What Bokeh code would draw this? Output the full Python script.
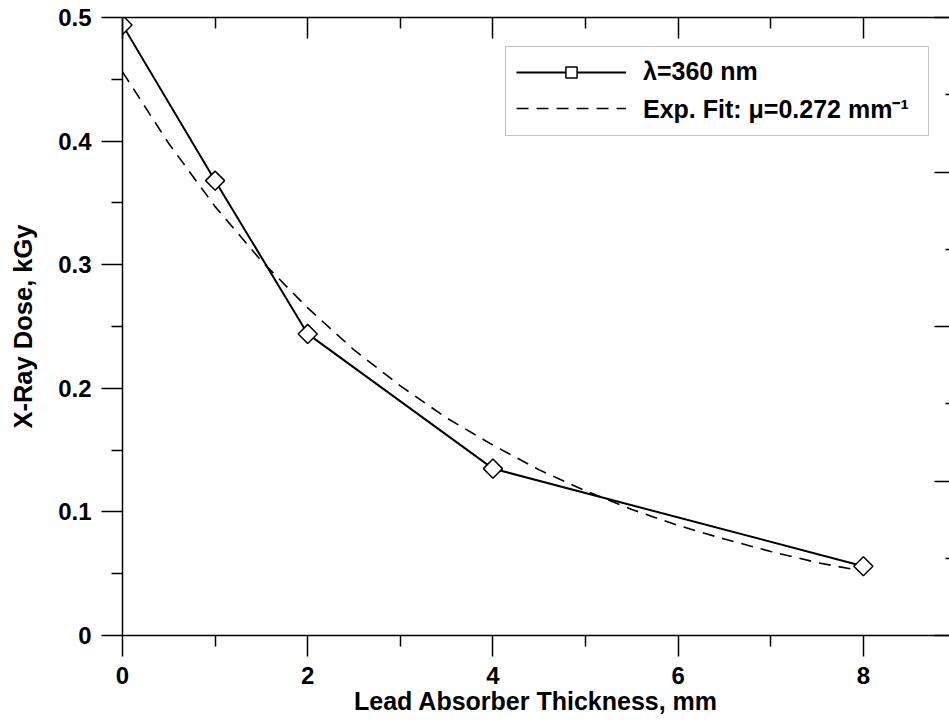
from bokeh.plotting import figure
from bokeh.models import (LinearAxis, Range1d, FixedTicker, Legend, LegendItem)
from bokeh.embed import file_html
from bokeh.resources import INLINE

# ---- data ----
thickness = [0, 1, 2, 4, 8]
dose = [0.494, 0.368, 0.244, 0.135, 0.056]

fit_x = [0, 0.5, 1, 1.5, 2, 2.5, 3, 3.5, 4, 4.5, 5, 5.5, 6, 6.5, 7, 7.5, 8]
fit_y = [0.456, 0.398, 0.347, 0.303, 0.265, 0.231, 0.202, 0.176, 0.154,
         0.134, 0.117, 0.102, 0.089, 0.078, 0.068, 0.059, 0.052]

x_ticks = [0, 2, 4, 6, 8]
x_minor = [1, 3, 5, 7]
y_ticks = [0, 0.1, 0.2, 0.3, 0.4, 0.5]
y_minor = [0.05, 0.15, 0.25, 0.35, 0.45]
y_labels = {0: "0", 0.1: "0.1", 0.2: "0.2", 0.3: "0.3", 0.4: "0.4", 0.5: "0.5"}
r_ticks = [0, 1, 2, 3, 4]
r_minor = [0.5, 1.5, 2.5, 3.5]

label_series = "λ=360 nm"
label_fit = "Exp. Fit: μ=0.272 mm⁻¹"
x_title = "Lead Absorber Thickness, mm"
y_title = "X-Ray Dose, kGy"

FONT = "Liberation Sans"

p = figure(width=949, height=722, output_backend="svg", toolbar_location=None,
           x_range=Range1d(0, 8.93), y_range=Range1d(0, 0.5),
           min_border_left=122, min_border_right=0, min_border_top=17,
           min_border_bottom=87, x_axis_location=None, y_axis_location=None)
p.outline_line_color = None
p.grid.visible = False
p.background_fill_color = "white"
p.border_fill_color = "white"
p.extra_y_ranges = {"right": Range1d(0, 4)}

def style(ax, tin, tout, mtin, mtout):
    ax.axis_line_color = "black"
    ax.axis_line_width = 1.5
    ax.major_tick_line_color = "black"
    ax.major_tick_line_width = 1.5
    ax.minor_tick_line_color = "black"
    ax.minor_tick_line_width = 1.5
    ax.major_tick_in = tin
    ax.major_tick_out = tout
    ax.minor_tick_in = mtin
    ax.minor_tick_out = mtout

def text_style(ax, standoff, label_standoff, title_size):
    ax.major_label_text_font = FONT
    ax.major_label_text_font_style = "bold"
    ax.major_label_text_font_size = "24px"
    ax.major_label_text_color = "black"
    ax.major_label_standoff = standoff
    ax.axis_label_text_font = FONT
    ax.axis_label_text_font_style = "bold"
    ax.axis_label_text_font_size = title_size
    ax.axis_label_text_color = "black"
    ax.axis_label_standoff = label_standoff

bottom = LinearAxis(ticker=FixedTicker(ticks=x_ticks, minor_ticks=x_minor),
                    axis_label=x_title)
style(bottom, 0, 21, 0, 11)
text_style(bottom, 10, 0, "25px")
p.add_layout(bottom, "below")

left = LinearAxis(ticker=FixedTicker(ticks=y_ticks, minor_ticks=y_minor),
                  axis_label=y_title)
style(left, 0, 21, 0, 11)
left.major_label_overrides = y_labels
text_style(left, 10, 18, "25.5px")
p.add_layout(left, "left")

top = LinearAxis(ticker=FixedTicker(ticks=x_ticks, minor_ticks=x_minor))
style(top, 21, 0, 11, 0)
top.major_label_text_font_size = "0px"
top.major_label_standoff = 0
p.add_layout(top, "above")

right = LinearAxis(y_range_name="right",
                   ticker=FixedTicker(ticks=r_ticks, minor_ticks=r_minor))
style(right, 15, 0, 4, 0)
right.axis_line_alpha = 0
right.major_label_text_font_size = "0px"
right.major_label_standoff = 0
p.add_layout(right, "right")

fit_r = p.line(fit_x, fit_y, line_color="black", line_width=1.6, line_dash="12 8")
line_r = p.line(thickness, dose, line_color="black", line_width=2)
pts_r = p.scatter(thickness, dose, marker="square", angle=0.785398, size=13.5,
                  fill_color="white", line_color="black", line_width=1.5)

legend = Legend(items=[LegendItem(label=label_series, renderers=[line_r, pts_r]),
                       LegendItem(label=label_fit, renderers=[fit_r])],
                location=(383, 499))
legend.glyph_width = 110
legend.glyph_height = 28
legend.label_height = 28
legend.label_width = 275
legend.label_text_font = FONT
legend.label_text_font_style = "bold"
legend.label_text_font_size = "25px"
legend.label_text_color = "black"
legend.label_standoff = 17
legend.spacing = 5
legend.padding = 10
legend.margin = 0
legend.border_line_color = "#888888"
legend.border_line_width = 1
legend.background_fill_alpha = 1
p.add_layout(legend, "center")

open("out.html", "w").write(file_html(p, INLINE))
